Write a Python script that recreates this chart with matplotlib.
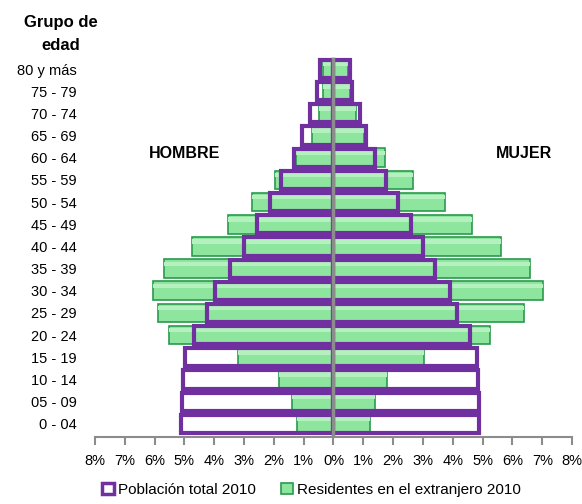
import matplotlib.pyplot as plt
from matplotlib.patches import Patch
from matplotlib.ticker import FixedLocator, FuncFormatter

plt.rcParams['font.family'] = ['Liberation Sans', 'DejaVu Sans']

grupos = ["0 - 04", "05 - 09", "10 - 14", "15 - 19", "20 - 24", "25 - 29", "30 - 34",
          "35 - 39", "40 - 44", "45 - 49", "50 - 54", "55 - 59", "60 - 64", "65 - 69",
          "70 - 74", "75 - 79", "80 y más"]

# porcentajes (%)
hombres_total = [5.10, 5.07, 5.04, 4.98, 4.67, 4.24, 3.96, 3.46, 3.01, 2.57, 2.13, 1.77, 1.34, 1.04, 0.78, 0.54, 0.45]
mujeres_total = [4.88, 4.87, 4.85, 4.81, 4.57, 4.14, 3.90, 3.42, 3.00, 2.61, 2.16, 1.77, 1.38, 1.10, 0.88, 0.63, 0.57]
hombres_ext = [1.21, 1.38, 1.81, 3.21, 5.50, 5.87, 6.04, 5.67, 4.75, 3.54, 2.72, 1.96, 1.25, 0.72, 0.50, 0.34, 0.34]
mujeres_ext = [1.23, 1.40, 1.79, 3.04, 5.24, 6.40, 7.03, 6.60, 5.62, 4.64, 3.75, 2.66, 1.73, 1.01, 0.76, 0.56, 0.50]

morado = "#7030A0"
verde = "#8EE59E"
verde_claro = "#B5F0BF"
verde_borde = "#2A9A4E"
gris = "#8C8C8C"

fig = plt.figure(figsize=(5.82, 5.04), dpi=100)
ax = fig.add_axes([0.163, 0.133, 0.820, 0.7565])

y = list(range(len(grupos)))

# residentes en el extranjero (verde)
ax.barh(y, [-v for v in hombres_ext], height=0.84, color=verde, edgecolor=verde_borde, linewidth=1.2, zorder=2)
ax.barh(y, mujeres_ext, height=0.84, color=verde, edgecolor=verde_borde, linewidth=1.2, zorder=2)
# brillo superior
ax.barh([v + 0.22 for v in y], [-v for v in hombres_ext], height=0.2, color=verde_claro, linewidth=0, zorder=2.5)
ax.barh([v + 0.22 for v in y], mujeres_ext, height=0.2, color=verde_claro, linewidth=0, zorder=2.5)

# poblacion total (contorno morado)
ax.barh(y, [-v for v in hombres_total], height=0.82, facecolor="none", edgecolor=morado, linewidth=3, zorder=3)
ax.barh(y, mujeres_total, height=0.82, facecolor="none", edgecolor=morado, linewidth=3, zorder=3)

# linea central
ax.plot([0, 0], [-0.59, 16.45], color=gris, linewidth=2.5, zorder=4)

ax.set_xlim(-8, 8)
ax.set_ylim(-0.59, 16.6)

ax.xaxis.set_major_locator(FixedLocator(range(-8, 9)))
ax.xaxis.set_major_formatter(FuncFormatter(lambda v, p: f"{abs(int(round(v)))}%"))
ax.tick_params(axis='x', direction='out', length=6, width=1.5, color=gris, labelsize=10.5, pad=6)

ax.set_yticks(y)
ax.set_yticklabels(grupos)
ax.tick_params(axis='y', length=0, labelsize=10.5, pad=13)

for s in ['top', 'right', 'left']:
    ax.spines[s].set_visible(False)
ax.spines['bottom'].set_color(gris)
ax.spines['bottom'].set_linewidth(1.5)

fig.text(0.105, 0.955, "Grupo de", ha='center', va='center', fontsize=12, fontweight='bold')
fig.text(0.105, 0.91, "edad", ha='center', va='center', fontsize=12, fontweight='bold')
ax.text(-4.98, 12.2, "HOMBRE", ha='center', va='center', fontsize=11.5, fontweight='bold')
ax.text(6.4, 12.2, "MUJER", ha='center', va='center', fontsize=11.5, fontweight='bold')

handles = [Patch(facecolor="white", edgecolor=morado, linewidth=2.5, label="Población total 2010"),
           Patch(facecolor=verde, edgecolor=verde_borde, linewidth=1.2, label="Residentes en el extranjero 2010")]
fig.legend(handles=handles, loc='center', bbox_to_anchor=(0.535, 0.028), ncol=2, frameon=False,
           fontsize=11, handlelength=0.75, handleheight=0.75, handletextpad=0.25, columnspacing=1.7)

fig.savefig("out.png", dpi=100)
